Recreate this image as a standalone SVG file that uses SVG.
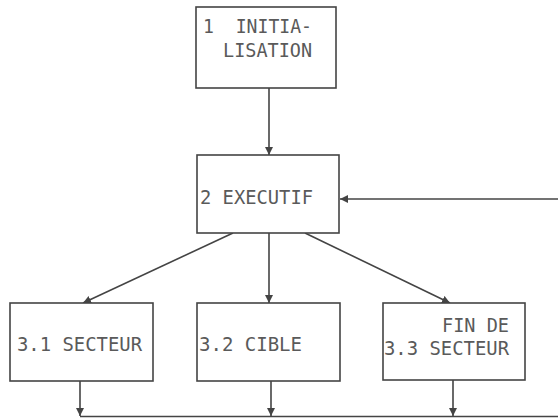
<svg xmlns="http://www.w3.org/2000/svg" width="558" height="418" viewBox="0 0 558 418">
<style>
.box{fill:#fff;stroke:#444;stroke-width:1.6}
.t{font-family:"DejaVu Sans Mono","Liberation Mono",monospace;font-size:20px;fill:#5a5a5a;white-space:pre}
.c{stroke:#444;stroke-width:1.6;fill:none}
</style>
<defs>
<marker id="ah" viewBox="0 0 10 10" refX="10" refY="5" markerWidth="8" markerHeight="8" markerUnits="userSpaceOnUse" orient="auto">
<path d="M0,0 L10,5 L0,10 z" fill="#444"/>
</marker>
</defs>
<rect width="558" height="418" fill="#fff"/>
<g id="connectors">
<line class="c" x1="269" y1="88" x2="269" y2="155" marker-end="url(#ah)"/>
<line class="c" x1="558" y1="199" x2="340" y2="199" marker-end="url(#ah)"/>
<line class="c" x1="233" y1="233" x2="83" y2="303" marker-end="url(#ah)"/>
<line class="c" x1="269" y1="233" x2="269" y2="303" marker-end="url(#ah)"/>
<line class="c" x1="305" y1="233" x2="450" y2="303" marker-end="url(#ah)"/>
<line class="c" x1="80" y1="381" x2="80" y2="416" marker-end="url(#ah)"/>
<line class="c" x1="271" y1="381" x2="271" y2="416" marker-end="url(#ah)"/>
<line class="c" x1="453" y1="380" x2="453" y2="416" marker-end="url(#ah)"/>
<line class="c" x1="80" y1="416.5" x2="558" y2="416.5"/>
</g>
<g id="n1">
<rect class="box" x="196" y="7" width="140" height="81"/>
<text class="t" x="203" y="33" textLength="109" lengthAdjust="spacingAndGlyphs">1  INITIA-</text>
<text class="t" x="223" y="57" textLength="89" lengthAdjust="spacingAndGlyphs">LISATION</text>
</g>
<g id="n2">
<rect class="box" x="197" y="155" width="142" height="78"/>
<text class="t" x="200" y="204" textLength="113" lengthAdjust="spacingAndGlyphs">2 EXECUTIF</text>
</g>
<g id="n31">
<rect class="box" x="10" y="303" width="143" height="78"/>
<text class="t" x="17" y="351" textLength="125" lengthAdjust="spacingAndGlyphs">3.1 SECTEUR</text>
</g>
<g id="n32">
<rect class="box" x="197" y="303" width="143" height="78"/>
<text class="t" x="199" y="351" textLength="103" lengthAdjust="spacingAndGlyphs">3.2 CIBLE</text>
</g>
<g id="n33">
<rect class="box" x="383" y="303" width="142" height="77"/>
<text class="t" x="442" y="332" textLength="67" lengthAdjust="spacingAndGlyphs">FIN DE</text>
<text class="t" x="384" y="355" textLength="125" lengthAdjust="spacingAndGlyphs">3.3 SECTEUR</text>
</g>
</svg>
